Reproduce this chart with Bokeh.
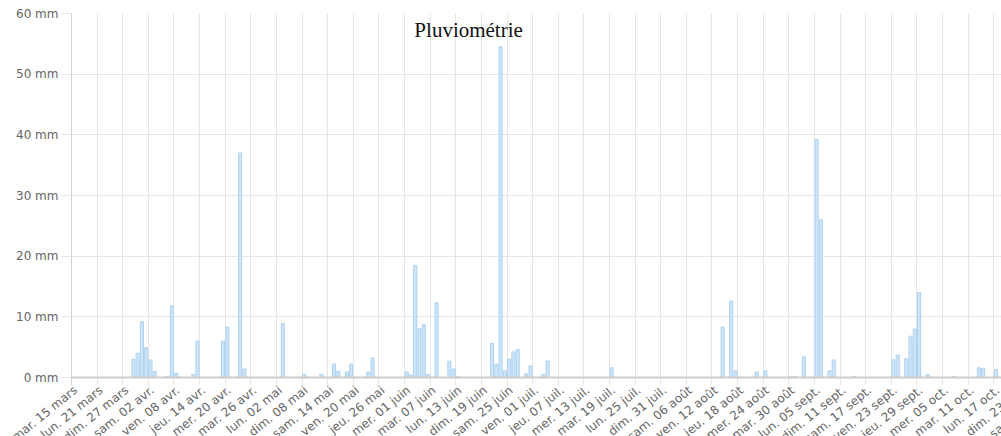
import pandas as pd
from bokeh.plotting import figure
from bokeh.layouts import column
from bokeh.models import ColumnDataSource, FixedTicker, Label, Range1d, Span
from bokeh.core.properties import value
from bokeh.embed import file_html
from bokeh.resources import INLINE

# ---------------- data ----------------
start_date = "2022-03-15"

tick_labels = [
    "mar. 15 mars", "lun. 21 mars", "dim. 27 mars", "sam. 02 avr.", "ven. 08 avr.",
    "jeu. 14 avr.", "mer. 20 avr.", "mar. 26 avr.", "lun. 02 mai", "dim. 08 mai",
    "sam. 14 mai", "ven. 20 mai", "jeu. 26 mai", "mer. 01 juin", "mar. 07 juin",
    "lun. 13 juin", "dim. 19 juin", "sam. 25 juin", "ven. 01 juil.", "jeu. 07 juil.",
    "mer. 13 juil.", "mar. 19 juil.", "lun. 25 juil.", "dim. 31 juil.", "sam. 06 août",
    "ven. 12 août", "jeu. 18 août", "mer. 24 août", "mar. 30 août", "lun. 05 sept.",
    "dim. 11 sept.", "sam. 17 sept.", "ven. 23 sept.", "jeu. 29 sept.", "mer. 05 oct.",
    "mar. 11 oct.", "lun. 17 oct.", "dim. 23 oct.", "sam. 29 oct.",
]
tick_step_days = 6

rain_dates = [
    "2022-03-29", "2022-03-30", "2022-03-31", "2022-04-01", "2022-04-02", "2022-04-03",
    "2022-04-06", "2022-04-07", "2022-04-08", "2022-04-12", "2022-04-13", "2022-04-19",
    "2022-04-20", "2022-04-23", "2022-04-24", "2022-05-03", "2022-05-08", "2022-05-12",
    "2022-05-15", "2022-05-16", "2022-05-18", "2022-05-19", "2022-05-23", "2022-05-24",
    "2022-06-01", "2022-06-02", "2022-06-03", "2022-06-04", "2022-06-05", "2022-06-06",
    "2022-06-08", "2022-06-11", "2022-06-12", "2022-06-13", "2022-06-21", "2022-06-22",
    "2022-06-23", "2022-06-24", "2022-06-25", "2022-06-26", "2022-06-27", "2022-06-29",
    "2022-06-30", "2022-07-03", "2022-07-04", "2022-07-19", "2022-08-14", "2022-08-16",
    "2022-08-17", "2022-08-22", "2022-08-24", "2022-08-30", "2022-08-31", "2022-09-02",
    "2022-09-05", "2022-09-06", "2022-09-08", "2022-09-09", "2022-09-14", "2022-09-23",
    "2022-09-24", "2022-09-26", "2022-09-27", "2022-09-28", "2022-09-29", "2022-10-01",
    "2022-10-07", "2022-10-13", "2022-10-14", "2022-10-17",
]
rain_mm = [
    3.0, 4.0, 9.2, 4.9, 2.9, 1.0,
    0.2, 11.8, 0.7, 0.5, 6.0, 6.0,
    8.3, 37.0, 1.4, 8.9, 0.5, 0.5,
    2.2, 1.0, 0.9, 2.2, 0.9, 3.2,
    0.9, 0.4, 18.5, 8.1, 8.7, 0.5,
    12.3, 2.7, 1.4, 0.1, 5.6, 2.2,
    54.5, 1.1, 3.0, 4.2, 4.6, 0.6,
    1.9, 0.5, 2.7, 1.6, 8.3, 12.6,
    1.1, 0.9, 1.1, 0.1, 0.2, 3.4,
    39.2, 26.0, 1.1, 2.9, 0.2, 2.9,
    3.7, 3.1, 6.8, 8.0, 14.0, 0.5,
    0.15, 1.6, 1.5, 1.3,
]
y_ticks = [0, 10, 20, 30, 40, 50, 60]

# ---------------- layout constants ----------------
W, H = 1001, 436
LEFT, TOP, ZERO_Y, MAIN_H = 71, 13, 377, 385   # pixels
X_END = 217.8                                  # days visible
Y_MAX = 60
px_per_day = (W - LEFT) / X_END
px_per_mm = (ZERO_Y - TOP) / Y_MAX
y_start = -(MAIN_H - ZERO_Y) / px_per_mm       # small strip below zero

GRID = "#e6e6e6"
FONT = "DejaVu Sans"

# ---------------- main chart ----------------
start = pd.Timestamp(start_date)
day_idx = [(pd.Timestamp(d) - start).days for d in rain_dates]
bars = ColumnDataSource(dict(x=[i + 0.5 for i in day_idx], top=rain_mm))
tick_pos = [k * tick_step_days for k in range(len(tick_labels))]

p = figure(width=W, height=MAIN_H, output_backend="svg", toolbar_location=None,
           x_range=Range1d(0, X_END), y_range=Range1d(y_start, Y_MAX),
           min_border_left=LEFT, min_border_right=0, min_border_top=TOP,
           min_border_bottom=0)
p.frame_align = False
p.outline_line_color = None
p.background_fill_color = "white"
p.xaxis.visible = False

p.xgrid.ticker = FixedTicker(ticks=tick_pos)
p.ygrid.ticker = FixedTicker(ticks=y_ticks)
p.xgrid.grid_line_color = GRID
p.ygrid.grid_line_color = GRID

p.vbar(x="x", top="top", bottom=0, width=0.72, source=bars,
       fill_color="#cfe5f7", line_color="#acd2f0", line_width=1)

p.add_layout(Span(location=0, dimension="width", line_color="#cccccc",
                  line_width=2))

p.yaxis.ticker = FixedTicker(ticks=y_ticks)
p.yaxis.major_label_overrides = {v: f"{v} mm" for v in y_ticks}
p.yaxis.major_tick_out = 10
p.yaxis.major_tick_in = 0
p.yaxis.minor_tick_line_color = None
p.yaxis.major_tick_line_color = GRID
p.yaxis.axis_line_color = "#d2d2d2"
p.yaxis.major_label_standoff = 3
p.yaxis.major_label_text_font = FONT
p.yaxis.major_label_text_font_size = "12px"
p.yaxis.major_label_text_color = "#666666"

title = Label(x=93.0, y=57.3, text="Pluviométrie", text_align="center",
              text_baseline="middle", text_font="Liberation Serif",
              text_font_size="21px", text_color="#111111")
p.add_layout(title)

# ---------------- rotated date labels strip ----------------
strip_h = H - MAIN_H
lab = ColumnDataSource(dict(x=[t + 0.5 for t in tick_pos],
                            y=[strip_h] * len(tick_pos), text=tick_labels))
q = figure(width=W, height=strip_h, output_backend="svg", toolbar_location=None,
           x_range=Range1d(-LEFT / px_per_day, X_END), y_range=Range1d(0, strip_h),
           min_border_left=0, min_border_right=0, min_border_top=0,
           min_border_bottom=0)
q.frame_align = False
q.axis.visible = False
q.grid.visible = False
q.outline_line_color = None
q.text(x="x", y="y", text="text", source=lab, angle=0.681,
       text_align="right", text_baseline="middle", x_offset=2, y_offset=3,
       text_font=value(FONT), text_font_size="12px", text_color="#666666")

layout = column(p, q, spacing=0)
open("out.html", "w").write(file_html(layout, INLINE))
